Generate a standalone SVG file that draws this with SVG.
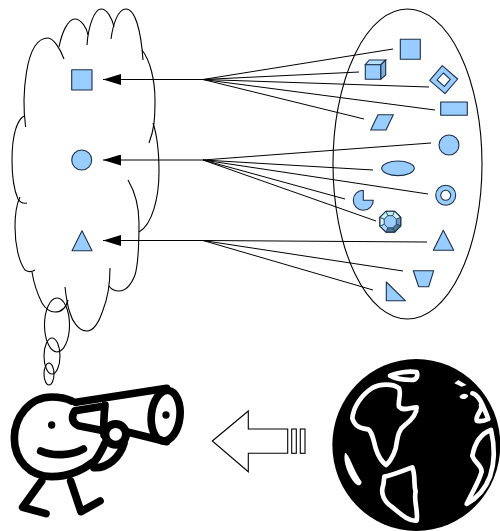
<svg xmlns="http://www.w3.org/2000/svg" width="500" height="531" viewBox="0 0 500 531">
<style>
.o{fill:none;stroke:#000;stroke-width:1.1}
.s{fill:#99ccff;stroke:#1c3048;stroke-width:1.1;stroke-linejoin:round}
.t{stroke:#1c3048;stroke-width:.7;stroke-linejoin:round}
.c{fill:none;stroke:#000;stroke-width:1}
.k{fill:none;stroke:#000;stroke-width:23;stroke-linecap:round;stroke-linejoin:round}
.w{fill:none;stroke:#fff;stroke-width:14;stroke-linejoin:round;stroke-linecap:round}
</style>
<defs>
<filter id="b" x="-5%" y="-5%" width="110%" height="110%"><feGaussianBlur stdDeviation="1.8"/></filter>
<marker id="a" viewBox="0 0 18 11" refX="18" refY="5.5" markerWidth="18" markerHeight="11" markerUnits="userSpaceOnUse" orient="auto"><path d="M18,5.5 0,0V11Z" fill="#000"/></marker>
</defs>
<g id="cloud">
<path class="o" d="M25.6,127C22,100 24,38 48,38C53,38 60,48 64,59"/>
<path class="o" d="M59,47C62,32 68,19 75,19C81,19 87,28 88,35"/>
<path class="o" d="M87,45C88,28 94,9 101,9C107,9 112,18 114,27"/>
<path class="o" d="M111,39C113,24 118,9 126,9C135,9 141,30 143,60"/>
<path class="o" d="M142,50C150,60 155,80 155,100C155,120 154,130 149,143"/>
<path class="o" d="M153,123C157,135 159,155 159,172C159,198 152,225 139,232"/>
<path class="o" d="M128,180C135,192 139,208 139,223C139,245 138,265 135,275C131,285 125,291 119,291C115,291 111,289 109,286"/>
<path class="o" d="M110,268C110,285 107,300 103,310C99,322 94,331 87,331C78,331 72,320 70,313C67,305 66,296 65,287"/>
<path class="o" d="M68,300C66,308 61,312 55,312C49,312 45,308 42,303C38,295 34,285 32,272"/>
<path class="o" d="M35,270C32,272 28,272 25,270C19,262 15,245 15,227C15,215 16,205 20,197"/>
<path class="o" d="M27,203C23,204 20,202 18,199C14,190 12,175 12,160C12,135 17,120 24,116"/>
<ellipse class="o" cx="57" cy="325" rx="12.5" ry="27"/>
<ellipse class="o" cx="52" cy="356" rx="8" ry="18"/>
<ellipse class="o" cx="49" cy="374" rx="5" ry="11"/>
</g>
<g id="set"><ellipse class="o" cx="407.5" cy="164" rx="74.5" ry="155"/></g>
<g id="connectors">
<path class="c" d="M203,79.5H103" marker-end="url(#a)"/>
<path class="c" d="M203,160H103" marker-end="url(#a)"/>
<path class="c" d="M203,240.5H103" marker-end="url(#a)"/>
<path class="c" d="M393,49 203,79.5 359,72M203,79.5 429,87M203,79.5 435,110M203,79.5 364,119"/>
<path class="c" d="M431,143 203,160 373,170M203,160 428,194M203,160 345,199M203,160 376,221"/>
<path class="c" d="M427,242 203,240.5 403,271M203,240.5 373,290"/>
</g>
<g id="concept-square"><rect class="s" x="71.7" y="69.7" width="20.3" height="20.3"/></g>
<g id="concept-circle"><circle class="s" cx="81.7" cy="160" r="10"/></g>
<g id="concept-triangle"><path class="s" d="M82,230.7 92,250.7H72Z"/></g>
<g id="square"><rect class="s" x="400.3" y="39.3" width="20" height="20"/></g>
<g id="cube"><path d="M380.7,64.7 385.7,60V75L380.7,79.3Z" fill="#7fb0dd" stroke="#1c3048" stroke-width="1.1"/><path d="M365.3,64.7 369.3,60H385.7L380.7,64.7Z" fill="#b5e0ff" stroke="#1c3048" stroke-width="1.1"/><rect class="s" x="365.3" y="64.7" width="15.4" height="14.6"/></g>
<g id="diamond-frame"><path class="s" fill-rule="evenodd" d="M442.3,65.7 457.7,79 445,93.7 429.7,80.3ZM443.3,73 437,80 444.3,86.3 450.3,79.3Z"/></g>
<g id="rectangle"><rect class="s" x="440.7" y="102" width="26.6" height="13.3"/></g>
<g id="parallelogram"><path class="s" d="M370.7,130H386L393.3,114.7H378Z"/></g>
<g id="circle"><circle class="s" cx="449" cy="145" r="10"/></g>
<g id="ellipse"><ellipse class="s" cx="398" cy="168.3" rx="16.3" ry="7.3"/></g>
<g id="ring"><path class="s" fill-rule="evenodd" d="M435.7,195.3a10,10 0 1 0 20,0a10,10 0 1 0 -20,0ZM440.7,195.3a5,5 0 1 0 10,0a5,5 0 1 0 -10,0Z"/></g>
<g id="pie"><path class="s" d="M363.3,200.3V190.3A10,10 0 1 0 373.3,200.3Z"/></g>
<g id="octagon">
<path class="t" fill="#bff0f6" d="M385.9,211.2H394.7L392.8,215.7H387.8Z"/>
<path class="t" fill="#d4f6f8" d="M394.7,211.2 400.8,217.3 396.3,219.2 392.8,215.7Z"/>
<path class="t" fill="#6f98bb" d="M400.8,217.3V226.1L396.3,224.2V219.2Z"/>
<path class="t" fill="#4d7798" d="M400.8,226.1 394.7,232.2 392.8,227.7 396.3,224.2Z"/>
<path class="t" fill="#4d7798" d="M394.7,232.2H385.9L387.8,227.7H392.8Z"/>
<path class="t" fill="#a8d8f0" d="M385.9,232.2 379.8,226.1 384.3,224.2 387.8,227.7Z"/>
<path class="t" fill="#d4f6f8" d="M379.8,226.1V217.3L384.3,219.2V224.2Z"/>
<path class="t" fill="#bff0f6" d="M379.8,217.3 385.9,211.2 387.8,215.7 384.3,219.2Z"/>
<path d="M385.9,211.2H394.7L400.8,217.3V226.1L394.7,232.2H385.9L379.8,226.1V217.3Z" fill="none" stroke="#1c3048" stroke-width="1.1"/>
<path class="t" fill="#99ccff" d="M387.8,215.7H392.8L396.3,219.2V224.2L392.8,227.7H387.8L384.3,224.2V219.2Z"/>
</g>
<g id="triangle"><path class="s" d="M443.3,230.3 453.7,250.3H433.3Z"/></g>
<g id="trapezoid"><path class="s" d="M413.3,270.7H433.7L428.7,286.7H418.7Z"/></g>
<g id="right-triangle"><path class="s" d="M386.3,282V300.7H405.3Z"/></g>
<g id="observer" transform="translate(0,375) scale(.3333)" filter="url(#b)">
<path class="k" d="M215,78C195,68 175,66 155,66C90,66 43,125 43,190C43,255 90,305 155,305C205,305 250,285 278,262"/>
<circle cx="155" cy="150" r="11"/>
<path class="k" d="M122,228C160,245 215,242 250,222" stroke-width="24"/>
<path class="k" d="M125,318 68,397 138,416M212,318 243,410 300,378"/>
<path class="k" d="M228,82 500,40"/>
<path class="k" d="M315,90C312,120 310,150 312,180"/>
<path class="k" d="M300,95 225,107C213,125 215,142 235,152L300,165"/>
<path class="k" d="M385,172 500,200"/>
<ellipse class="k" cx="497" cy="122" rx="43" ry="76" transform="rotate(6 497 122)"/>
<circle cx="498" cy="120" r="11"/>
<circle cx="347" cy="178" r="31" fill="#fff" stroke="#000" stroke-width="24"/>
<path class="k" d="M282,278C325,280 360,245 372,205"/>
<path class="k" d="M275,268C295,250 305,225 315,205"/>
</g>
<g id="arrow"><path class="o" d="M212.3,441 248.3,411V429H287.7V453.3H248.3V471.7Z"/><rect class="o" x="291.7" y="429" width="4.6" height="24.3"/><rect class="o" x="300.3" y="429" width="4.7" height="24.3"/></g>
<g id="world" transform="translate(325,350) scale(.3333)" filter="url(#b)">
<ellipse cx="274" cy="285" rx="252" ry="258"/>
<path class="w" d="M82,205C85,170 110,135 140,115C165,100 205,100 222,115C230,130 218,155 222,170C235,185 255,172 275,172C275,190 260,210 240,225C218,240 218,265 212,295C205,320 190,340 183,345C170,335 160,320 152,295C145,265 140,245 130,238C110,235 90,232 82,205Z"/>
<path class="w" d="M195,77C215,68 250,62 275,66C280,78 275,90 260,90C240,90 215,88 195,77Z"/>
<path d="M388,100 400,90 425,105 410,110Z M403,140C410,130 425,128 430,138C425,150 408,150 403,140Z" fill="#fff"/>
<path class="w" d="M442,130C460,135 470,155 490,207C475,215 465,215 455,212C450,195 475,180 468,165"/>
<path d="M60,308C75,315 80,350 110,395C108,410 98,408 90,400C72,380 52,335 60,308Z" fill="#fff"/>
<path class="w" d="M178,380C205,375 240,360 262,352C272,375 265,400 272,425C265,450 280,480 275,512C250,515 225,490 200,470C178,455 165,430 175,405Z"/>
<path class="w" d="M498,240C470,250 450,275 442,318C450,340 470,345 470,365C462,395 445,420 425,462C455,445 480,420 495,380C510,335 510,290 498,240Z"/>
</g>
</svg>
